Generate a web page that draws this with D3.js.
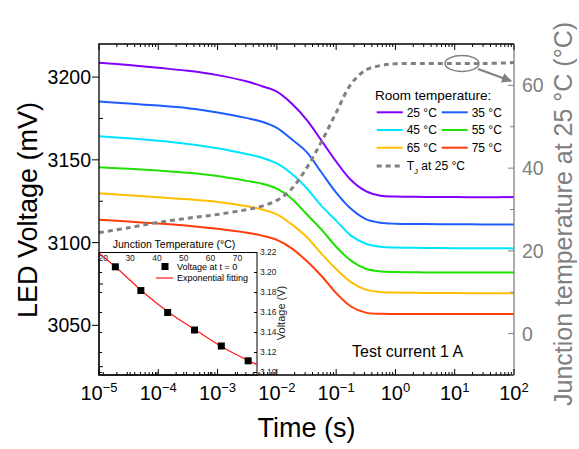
<!DOCTYPE html>
<html>
<head>
<meta charset="utf-8">
<script src="https://cdn.jsdelivr.net/npm/d3@7"></script>
<style>
  body { margin: 0; background: #fff; }
  svg { font-family: Arial, "Liberation Sans", sans-serif; }
</style>
</head>
<body>
<svg id="chart" width="579" height="449"></svg>
<script>
// time grid (s) shared by all curves
let times = [1e-5, 3.16e-5, 1e-4, 3.16e-4, 1e-3, 3.16e-3, 5.62e-3, 1e-2, 1.78e-2, 3.16e-2, 5.62e-2,
             0.1, 0.178, 0.316, 0.562, 1, 3.16, 10, 31.6, 100];

// LED voltage (mV) for each room temperature
let v25 = [3208.7, 3207.3, 3205.6, 3203.8, 3201.2, 3197.3, 3194.5, 3191.2, 3184.0, 3174.3, 3161.8,
           3149.0, 3137.8, 3131.1, 3128.3, 3127.8, 3127.6, 3127.5, 3127.4, 3127.5];
let v35 = [3185.2, 3184.0, 3182.8, 3181.2, 3178.6, 3175.2, 3173.0, 3169.3, 3162.4, 3154.8, 3142.5,
           3130.2, 3120.4, 3114.2, 3112.0, 3111.4, 3111.2, 3111.1, 3111.0, 3111.0];
let v45 = [3164.3, 3163.0, 3161.5, 3159.6, 3157.0, 3153.4, 3151.3, 3147.8, 3141.6, 3133.0, 3122.3,
           3113.3, 3104.2, 3099.3, 3097.5, 3097.0, 3096.8, 3096.6, 3096.6, 3096.5];
let v55 = [3145.5, 3144.6, 3143.5, 3142.2, 3140.3, 3137.3, 3135.6, 3132.6, 3126.5, 3117.3, 3108.0,
           3097.5, 3089.1, 3084.2, 3082.6, 3082.2, 3082.0, 3081.9, 3081.9, 3081.9];
let v65 = [3129.8, 3128.6, 3127.4, 3126.2, 3124.6, 3122.0, 3120.0, 3117.1, 3111.0, 3103.5, 3093.4,
           3084.0, 3076.1, 3071.6, 3070.2, 3069.8, 3069.6, 3069.5, 3069.4, 3069.4];
let v75 = [3113.8, 3112.7, 3111.5, 3110.2, 3108.3, 3105.9, 3104.2, 3101.6, 3096.5, 3089.0, 3080.0,
           3069.5, 3061.4, 3057.7, 3057.0, 3056.9, 3056.9, 3056.9, 3056.8, 3056.8];

// junction temperature at 25 °C (right axis)
let tj25 = [24.4, 25.6, 26.9, 27.9, 28.8, 30.0, 30.8, 32.2, 35.0, 40.0, 46.3,
            53.4, 60.3, 63.7, 64.8, 65.2, 65.3, 65.3, 65.3, 65.5];

let seriesNames = ["25 °C", "35 °C", "45 °C", "55 °C", "65 °C", "75 °C"];
let seriesColors = ["#7f00ff", "#1f5cff", "#00e5ff", "#1fe000", "#ffbf00", "#ff3d0a"];

// inset: voltage at t = 0 vs junction temperature
let insetT = [24.5, 34, 44, 54, 64, 74];
let insetV = [3.2057, 3.182, 3.160, 3.1425, 3.1265, 3.1117];
let fitT = [18.4, 25, 35, 45, 55, 65, 77.3];
let fitV = [3.2195, 3.2045, 3.180, 3.159, 3.1415, 3.1245, 3.1078];

let xTicks = [1e-5, 1e-4, 1e-3, 1e-2, 1e-1, 1, 10, 100];
let xExp = ["−5", "−4", "−3", "−2", "−1", "0", "1", "2"];
let yTicks = [3050, 3100, 3150, 3200];
let yMinor = [3025, 3075, 3125, 3175];
let yRTicks = [0, 20, 40, 60];
let yRMinor = [-10, 10, 30, 50];
let insetXTicks = [20, 30, 40, 50, 60, 70];
let insetYTicks = [3.10, 3.12, 3.14, 3.16, 3.18, 3.20, 3.22];

let svg = d3.select("#chart");
let L = 99, R = 514, T = 44, B = 375;
let gray = "#808080";

let x = d3.scaleLog().domain([1e-5, 1e2]).range([L, R]);
let y = d3.scaleLinear().domain([3020, 3220]).range([B, T]);
let yR = d3.scaleLinear().domain([-10, 70]).range([B, T]);

let minorX = [];
for (let d = -5; d < 2; d++) for (let k = 2; k <= 9; k++) minorX.push(k * Math.pow(10, d));

// inset (drawn first, white background)
let ix = d3.scaleLinear().domain([18.4, 77.3]).range([L, 257]);
let iy = d3.scaleLinear().domain([3.0975, 3.22]).range([B, 252.5]);
let inset = svg.append("g");
inset.append("rect").attr("x", L).attr("y", 252.5).attr("width", 257 - L).attr("height", B - 252.5)
  .attr("fill", "#fff").attr("stroke", "#000").attr("stroke-width", 1);
inset.append("text").attr("x", 174).attr("y", 248).attr("text-anchor", "middle")
  .attr("font-size", 10.5).text("Junction Temperature (°C)");
inset.selectAll(".itx").data(insetXTicks).enter().append("text")
  .attr("x", d => ix(d)).attr("y", 261).attr("text-anchor", "middle")
  .attr("font-size", 8.5).attr("fill", "#222").text(d => d);
inset.selectAll(".itk").data(insetXTicks).enter().append("line")
  .attr("x1", d => ix(d)).attr("x2", d => ix(d)).attr("y1", B).attr("y2", B - 3)
  .attr("stroke", "#000");
inset.selectAll(".iyk").data(insetYTicks).enter().append("line")
  .attr("x1", L).attr("x2", L + 3).attr("y1", d => iy(d)).attr("y2", d => iy(d))
  .attr("stroke", "#000");
inset.selectAll(".iyk2").data(insetYTicks).enter().append("line")
  .attr("x1", 257).attr("x2", 254).attr("y1", d => iy(d)).attr("y2", d => iy(d))
  .attr("stroke", "#000");
inset.selectAll(".iyl").data(insetYTicks).enter().append("text")
  .attr("x", 260).attr("y", d => iy(d)).attr("dy", "0.35em")
  .attr("font-size", 8.5).attr("fill", "#222").text(d => d.toFixed(2));
inset.append("text").attr("transform", "translate(285,313) rotate(-90)")
  .attr("text-anchor", "middle").attr("font-size", 11).attr("fill", "#222").text("Voltage (V)");
inset.append("path").datum(fitT.map((t, i) => [t, fitV[i]]))
  .attr("fill", "none").attr("stroke", "#ff1a1a").attr("stroke-width", 1.2)
  .attr("d", d3.line().x(d => ix(d[0])).y(d => iy(d[1])).curve(d3.curveMonotoneX));
inset.selectAll(".sq").data(insetT).enter().append("rect")
  .attr("x", d => ix(d) - 3.5).attr("y", (d, i) => iy(insetV[i]) - 3.5)
  .attr("width", 7).attr("height", 7).attr("fill", "#000");
inset.append("rect").attr("x", 161.5).attr("y", 263).attr("width", 7).attr("height", 7).attr("fill", "#000");
inset.append("text").attr("x", 177).attr("y", 266.7).attr("dy", "0.35em").attr("font-size", 9)
  .text("Voltage at t = 0");
inset.append("line").attr("x1", 156).attr("x2", 173).attr("y1", 278).attr("y2", 278)
  .attr("stroke", "#ff1a1a").attr("stroke-width", 1.2);
inset.append("text").attr("x", 177).attr("y", 278).attr("dy", "0.35em").attr("font-size", 9)
  .text("Exponential fitting");

// curves
let line = d3.line().x(d => x(d[0])).y(d => y(d[1])).curve(d3.curveCatmullRom.alpha(0.5));
[v25, v35, v45, v55, v65, v75].forEach(function(vals, i) {
  svg.append("path").datum(times.map((t, j) => [t, vals[j]]))
    .attr("fill", "none").attr("stroke", seriesColors[i]).attr("stroke-width", 2)
    .attr("d", line);
});
svg.append("path").datum(times.map((t, j) => [t, tj25[j]]))
  .attr("fill", "none").attr("stroke", gray).attr("stroke-width", 3)
  .attr("stroke-dasharray", "5,4")
  .attr("d", d3.line().x(d => x(d[0])).y(d => yR(d[1])).curve(d3.curveCatmullRom.alpha(0.5)));

// ellipse and arrow
svg.append("defs").append("marker").attr("id", "ah").attr("viewBox", "0 0 10 10")
  .attr("refX", 9).attr("refY", 5).attr("markerWidth", 5).attr("markerHeight", 5)
  .attr("orient", "auto").append("path").attr("d", "M0,0L10,5L0,10z").attr("fill", gray);
svg.append("ellipse").attr("cx", 462).attr("cy", 63.5).attr("rx", 17).attr("ry", 8)
  .attr("fill", "none").attr("stroke", gray).attr("stroke-width", 1.5);
svg.append("line").attr("x1", 478).attr("y1", 69).attr("x2", 511).attr("y2", 81)
  .attr("stroke", gray).attr("stroke-width", 2).attr("marker-end", "url(#ah)");

// frame
svg.append("path").attr("d", `M${R},${T}H${L}V${B}H${R}`).attr("fill", "none")
  .attr("stroke", "#000").attr("stroke-width", 1.3);
svg.append("line").attr("x1", R).attr("x2", R).attr("y1", T).attr("y2", B)
  .attr("stroke", gray).attr("stroke-width", 1.3);

// bottom / top ticks (inward)
[B, T].forEach(function(yy) {
  let dir = yy === B ? -1 : 1;
  svg.selectAll(null).data(xTicks).enter().append("line")
    .attr("x1", d => x(d)).attr("x2", d => x(d)).attr("y1", yy).attr("y2", yy + dir * 6)
    .attr("stroke", "#000");
  svg.selectAll(null).data(minorX).enter().append("line")
    .attr("x1", d => x(d)).attr("x2", d => x(d)).attr("y1", yy).attr("y2", yy + dir * 3)
    .attr("stroke", "#000");
});
let xl = svg.selectAll(".xl").data(xTicks).enter().append("text")
  .attr("x", d => x(d)).attr("y", 400).attr("text-anchor", "middle").attr("font-size", 20);
xl.append("tspan").text("10");
xl.append("tspan").attr("dy", -8).attr("font-size", 13).text((d, i) => xExp[i]);

// left ticks
svg.selectAll(".yk").data(yTicks).enter().append("line")
  .attr("x1", L - 7).attr("x2", L).attr("y1", d => y(d)).attr("y2", d => y(d)).attr("stroke", "#000");
svg.selectAll(".ym").data(yMinor).enter().append("line")
  .attr("x1", L).attr("x2", L + 4).attr("y1", d => y(d)).attr("y2", d => y(d)).attr("stroke", "#000");
svg.selectAll(".yl").data(yTicks).enter().append("text")
  .attr("x", 91).attr("y", d => y(d)).attr("dy", "0.36em").attr("text-anchor", "end")
  .attr("font-size", 19.5).text(d => d);

// right ticks (gray)
svg.selectAll(".rk").data(yRTicks).enter().append("line")
  .attr("x1", R - 6).attr("x2", R).attr("y1", d => yR(d)).attr("y2", d => yR(d)).attr("stroke", gray);
svg.selectAll(".rm").data(yRMinor).enter().append("line")
  .attr("x1", R - 4).attr("x2", R).attr("y1", d => yR(d)).attr("y2", d => yR(d)).attr("stroke", gray);
svg.selectAll(".rl").data(yRTicks).enter().append("text")
  .attr("x", 522).attr("y", d => yR(d)).attr("dy", "0.36em").attr("fill", gray)
  .attr("font-size", 19.5).text(d => d);

// axis titles
svg.append("text").attr("x", (L + R) / 2).attr("y", 437).attr("text-anchor", "middle")
  .attr("font-size", 27).text("Time (s)");
svg.append("text").attr("transform", "translate(37,210) rotate(-90)").attr("text-anchor", "middle")
  .attr("font-size", 27).text("LED Voltage (mV)");
svg.append("text").attr("transform", "translate(572,214) rotate(-90)").attr("text-anchor", "middle")
  .attr("font-size", 25).attr("fill", gray).text("Junction temperature at 25 °C (°C)");

// legend
svg.append("text").attr("x", 375).attr("y", 95).attr("dy", "0.35em").attr("font-size", 13.5)
  .text("Room temperature:");
let rowsY = [112.3, 130, 147.7];
seriesNames.forEach(function(name, i) {
  let cx = i % 2 === 0 ? 376.7 : 441.7;
  let cy = rowsY[Math.floor(i / 2)];
  svg.append("line").attr("x1", cx).attr("x2", cx + 26).attr("y1", cy).attr("y2", cy)
    .attr("stroke", seriesColors[i]).attr("stroke-width", 2);
  svg.append("text").attr("x", cx + 30).attr("y", cy).attr("dy", "0.35em").attr("font-size", 12).text(name);
});
svg.append("line").attr("x1", 376.7).attr("x2", 402.7).attr("y1", 166).attr("y2", 166)
  .attr("stroke", gray).attr("stroke-width", 3).attr("stroke-dasharray", "5,4");
let tj = svg.append("text").attr("x", 406.7).attr("y", 166).attr("dy", "0.35em").attr("font-size", 12);
tj.append("tspan").text("T");
tj.append("tspan").attr("dy", 4).attr("font-size", 8).text("J");
tj.append("tspan").attr("dy", -4).text(" at 25 °C");

svg.append("text").attr("x", 352).attr("y", 357).attr("font-size", 16).text("Test current 1 A");
</script>
</body>
</html>
